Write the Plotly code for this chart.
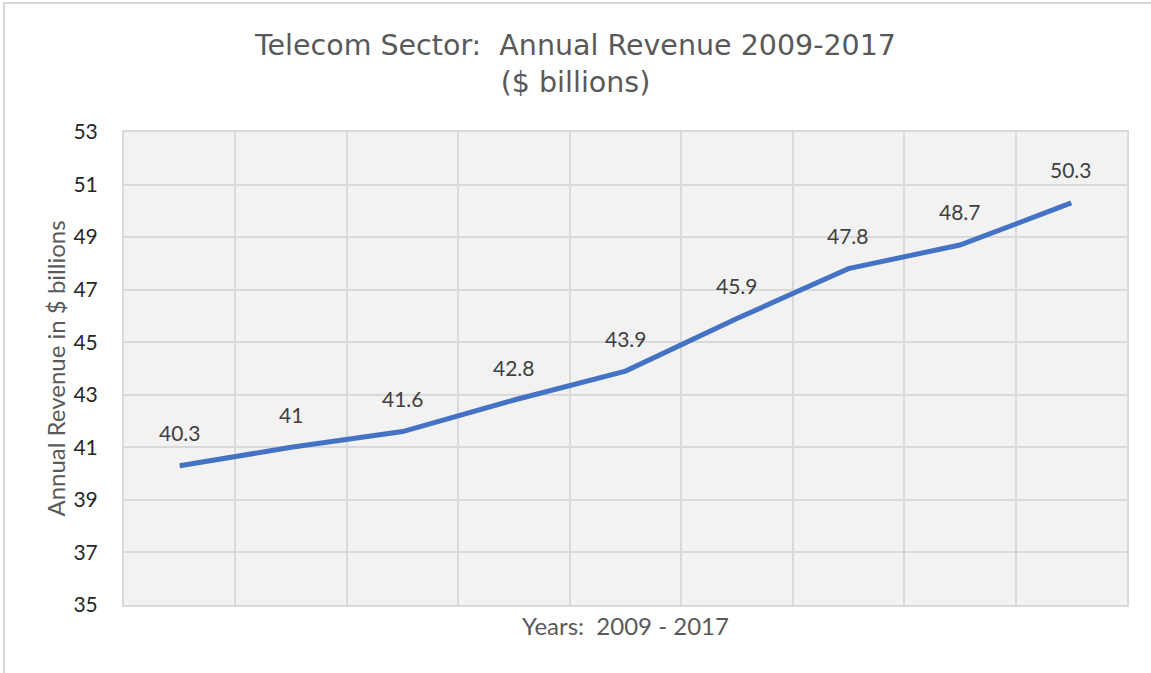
import plotly.graph_objects as go

# Chart data
years = ['2009', '2010', '2011', '2012', '2013', '2014', '2015', '2016', '2017']
revenue = [40.3, 41, 41.6, 42.8, 43.9, 45.9, 47.8, 48.7, 50.3]
y_ticks = [35, 37, 39, 41, 43, 45, 47, 49, 51, 53]

LINE_BLUE = '#4472C4'
GRID = '#d9d9d9'
TEXT_GRAY = '#595959'
FONT = "Lato, sans-serif"

fig = go.Figure()

fig.add_trace(go.Scatter(
    x=years,
    y=revenue,
    mode='lines',
    line=dict(color=LINE_BLUE, width=5),
    hoverinfo='x+y',
    showlegend=False
))

# data labels above each point (category index as x)
for i, val in enumerate(revenue):
    fig.add_annotation(
        x=i, y=val,
        text=f"{val:g}",
        showarrow=False,
        yshift=33,
        font=dict(family=FONT, size=21, color='#404040')
    )

# light frame around the chart (only left/top edges visible in the source)
fig.add_shape(
    type='rect', xref='paper', yref='paper',
    x0=-0.1196, x1=1.2, y0=-0.3, y1=1.2727,
    line=dict(color=GRID, width=2), fillcolor='rgba(0,0,0,0)', layer='above'
)

fig.update_layout(
    width=1151, height=673,
    title=dict(
        text="Telecom Sector:  Annual Revenue 2009-2017<br>($ billions)",
        x=0.5, xanchor='center', y=0.918, yanchor='top',
        font=dict(family="DejaVu Sans, sans-serif", size=28.5, color=TEXT_GRAY)
    ),
    font=dict(family=FONT),
    plot_bgcolor='#f2f2f2',
    paper_bgcolor='white',
    margin=dict(l=124, r=24, t=132, b=68),
)

fig.update_xaxes(
    type='category',
    range=[-0.5, 8.5],
    showticklabels=False,
    ticks='',
    tickson='boundaries',
    showgrid=True, gridcolor=GRID, gridwidth=2,
    showline=True, linecolor=GRID, linewidth=2, mirror=True,
    title=dict(text="Years:  2009 - 2017", standoff=12,
               font=dict(family=FONT, size=24, color=TEXT_GRAY)),
)

fig.update_yaxes(
    range=[35, 53],
    tickvals=y_ticks,
    showgrid=True, gridcolor=GRID, gridwidth=2,
    zeroline=False,
    showline=True, linecolor=GRID, linewidth=2, mirror=True,
    ticks='', ticklabelstandoff=20,
    tickfont=dict(family=FONT, size=21, color='#262626'),
    title=dict(text="Annual Revenue in $ billions", standoff=1,
               font=dict(family=FONT, size=24, color=TEXT_GRAY)),
)

fig.write_html("out.html", config={'displayModeBar': False},
               post_script="document.body.style.margin='0';")
